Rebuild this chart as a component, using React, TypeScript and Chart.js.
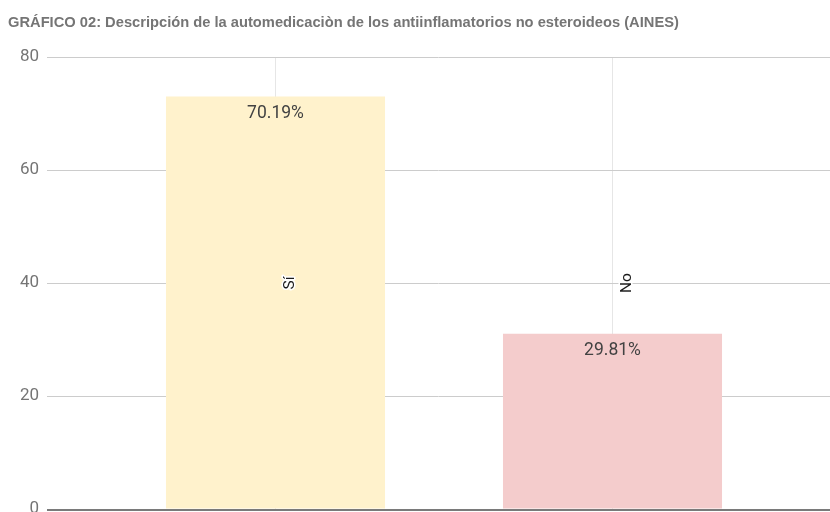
import React, { useEffect, useRef } from 'react';
import { Chart, registerables } from 'chart.js';

Chart.register(...registerables);

const chartTitle =
  'GRÁFICO 02: Descripción de la automedicaciòn de los antiinflamatorios no esteroideos (AINES)';
const categories = ['Sí', 'No'];
const counts = [73, 31];
const percentLabels = ['70.19%', '29.81%'];
const barColors = ['#FFF2CC', '#F4CCCC'];
const yTicks = [0, 20, 40, 60, 80];

export default function App() {
  const ref = useRef<HTMLCanvasElement>(null);

  useEffect(() => {
    const canvas = ref.current;
    if (!canvas) return;

    const custom = {
      id: 'customDecor',
      beforeDatasetsDraw(chart: any) {
        const ctx = chart.ctx;
        const ys = chart.scales.y;
        ctx.save();
        ctx.strokeStyle = '#cccccc';
        ctx.lineWidth = 1;
        yTicks.forEach((v) => {
          if (v === 0) return;
          const py = Math.round(ys.getPixelForValue(v)) + 0.5;
          ctx.beginPath();
          ctx.moveTo(47, py);
          ctx.lineTo(chart.width, py);
          ctx.stroke();
        });
        ctx.restore();
      },
      afterDatasetsDraw(chart: any) {
        const ctx = chart.ctx;
        const ys = chart.scales.y;
        const xs = chart.scales.x;
        const area = chart.chartArea;
        ctx.save();
        // baseline
        const by = ys.getPixelForValue(0);
        ctx.strokeStyle = '#7a7a7a';
        ctx.lineWidth = 2;
        ctx.beginPath();
        ctx.moveTo(47, by + 1);
        ctx.lineTo(chart.width, by + 1);
        ctx.stroke();

        // value labels
        const meta = chart.getDatasetMeta(0);
        ctx.font = '17.5px Roboto';
        ctx.fillStyle = '#424242';
        ctx.textAlign = 'center';
        ctx.textBaseline = 'middle';
        meta.data.forEach((bar: any, i: number) => {
          ctx.fillText(percentLabels[i], bar.x, bar.y + 17);
        });

        // rotated category labels
        const midY = (area.top + area.bottom) / 2;
        categories.forEach((c, i) => {
          const px = xs.getPixelForValue(i) + 18;
          ctx.save();
          ctx.translate(px, midY);
          ctx.rotate(-Math.PI / 2);
          ctx.font = '15.5px Roboto';
          ctx.textAlign = 'center';
          ctx.textBaseline = 'alphabetic';
          ctx.lineJoin = 'round';
          ctx.strokeStyle = '#ffffff';
          ctx.lineWidth = 3;
          ctx.strokeText(c, 0, 0);
          ctx.fillStyle = '#1a1a1a';
          ctx.fillText(c, 0, 0);
          ctx.restore();
        });
        ctx.restore();
      },
      afterDraw(chart: any) {
        const ctx = chart.ctx;
        ctx.save();
        ctx.font = 'bold 14.7px "Liberation Sans", Arial, sans-serif';
        ctx.fillStyle = '#757575';
        ctx.textAlign = 'left';
        ctx.textBaseline = 'alphabetic';
        ctx.fillText(chartTitle, 8, 27);
        ctx.restore();
      },
    };

    const chart = new Chart(canvas, {
      type: 'bar',
      data: {
        labels: categories,
        datasets: [
          {
            data: counts,
            backgroundColor: barColors,
            borderWidth: 0,
            barPercentage: 0.65,
            categoryPercentage: 1,
          },
        ],
      },
      options: {
        responsive: false,
        animation: false,
        devicePixelRatio: 1,
        layout: { padding: { top: 57, right: 49, bottom: 20, left: 0 } },
        plugins: {
          legend: { display: false },
          title: { display: false },
          tooltip: { enabled: false },
        },
        scales: {
          x: {
            type: 'category',
            grid: {
              display: true,
              offset: false,
              color: '#e6e6e6',
              drawTicks: false,
            },
            border: { display: false },
            ticks: { display: false },
          },
          y: {
            min: 0,
            max: 80,
            afterFit: (s: any) => {
              s.width = 107;
            },
            grid: {
              display: true,
              drawOnChartArea: false,
              drawTicks: true,
              tickLength: 61,
              color: 'rgba(0,0,0,0)',
            },
            border: { display: false },
            ticks: {
              stepSize: 20,
              padding: 7,
              color: '#757575',
              font: { family: 'Roboto', size: 17 },
            },
          },
        },
      },
      plugins: [custom],
    });

    return () => chart.destroy();
  }, []);

  return (
    <div
      style={{
        position: 'fixed',
        left: 0,
        top: 0,
        width: 830,
        height: 512,
        overflow: 'hidden',
        background: '#ffffff',
      }}
    >
      <canvas
        ref={ref}
        width={830}
        height={529}
        style={{ display: 'block', width: 830, height: 529 }}
      />
    </div>
  );
}
